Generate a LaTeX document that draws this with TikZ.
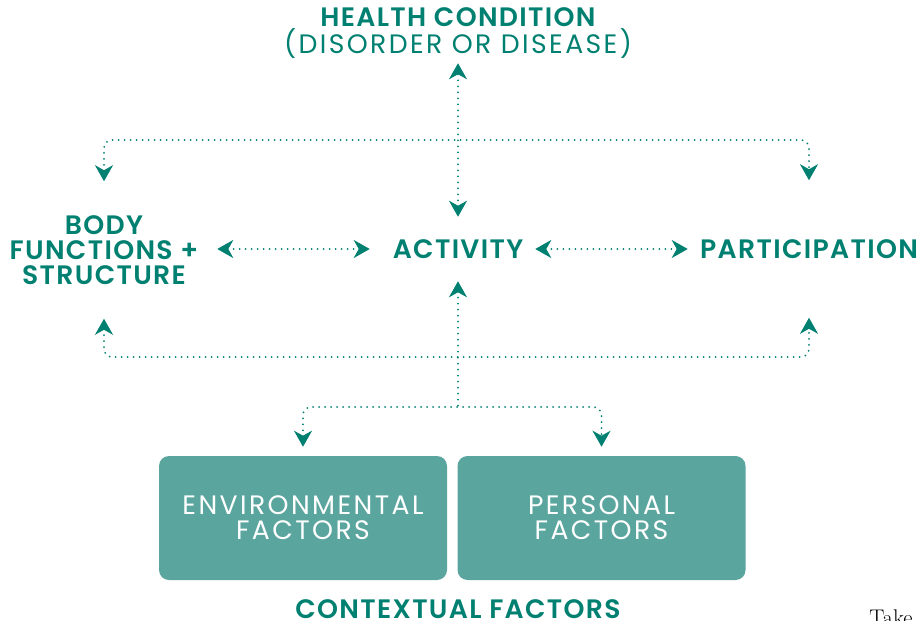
\documentclass[tikz,border=0pt]{standalone}
\usepackage{fontspec}
\newfontfamily\icfsans{Poppins}[BoldFont={Poppins SemiBold},LetterSpace=5]
\newfontfamily\icflight{Poppins}[LetterSpace=9]
\usetikzlibrary{arrows.meta,positioning}
\definecolor{icfTeal}{RGB}{0,128,112}
\definecolor{icfBox}{RGB}{91,165,159}
\tikzset{icfLabel/.style={rectangle,text=icfTeal,font=\icfsans\bfseries\fontsize{20}{18.75}\selectfont,align=center,inner sep=0pt}}
\tikzset{factor/.style={rectangle,rounded corners=7.5pt,fill=icfBox,text=white,font=\icflight\fontsize{20}{18.75}\selectfont,align=center,minimum width=216pt,minimum height=93pt}}
\tikzset{dotArrow/.style={>={Stealth[length=12pt,width=13.5pt,inset=3.75pt]},<->,icfTeal,line width=1.5pt,dash pattern=on 0pt off 4.5pt,line cap=round,rounded corners=6pt}}

\begin{document}
\begin{tikzpicture}[x=0.75pt,y=-0.75pt]
\useasboundingbox (0,0) rectangle (918,621);
	\node (hc) [icfLabel, minimum height=45pt] at (458,33) {HEALTH CONDITION\\{\icflight\mdseries (DISORDER OR DISEASE)}} ;
	\node (act) [icfLabel, minimum width=115.5pt, minimum height=48pt] at (458,249) {ACTIVITY} edge [dotArrow] (hc) ;
	\node (bf) [icfLabel, minimum width=169.5pt, minimum height=102.75pt] at (104,250) {BODY\\FUNCTIONS +\\STRUCTURE} ;
	\node (pa) [icfLabel, minimum width=181.5pt, minimum height=102.75pt] at (809,249) {PARTICIPATION} edge [dotArrow] (act) ;
	\draw [dotArrow, shorten >=8.25pt] (bf.east |- act) -- (act) ;
	\coordinate (topJoin) at (458,140) ;
	\coordinate (midJoin) at (458,357) ;
	\coordinate (lowJoin) at (458,407) ;
	\draw [dotArrow] (bf.north) |- (topJoin) -| (pa.north) ;
	\draw [dotArrow] (bf.south) |- (midJoin) -| (pa.south) ;
	\node (env) [factor] at (303,518) {ENVIRONMENTAL\\FACTORS} ;
	\node (per) [factor, right=7.5pt of env] {PERSONAL\\FACTORS} ;
	\draw [dotArrow, <-] (act.south) -- (lowJoin) ;
	\draw [dotArrow, shorten <=6.75pt, shorten >=6.75pt] (env.north) |- (lowJoin) -| (per.north) ;
	\node (cf) [icfLabel] at (458,609) {CONTEXTUAL FACTORS} ;
	\node (take) [anchor=base west, inner sep=0pt, font=\fontsize{17}{20}\selectfont] at (869,625) {Take} ;
\end{tikzpicture}
\end{document}
